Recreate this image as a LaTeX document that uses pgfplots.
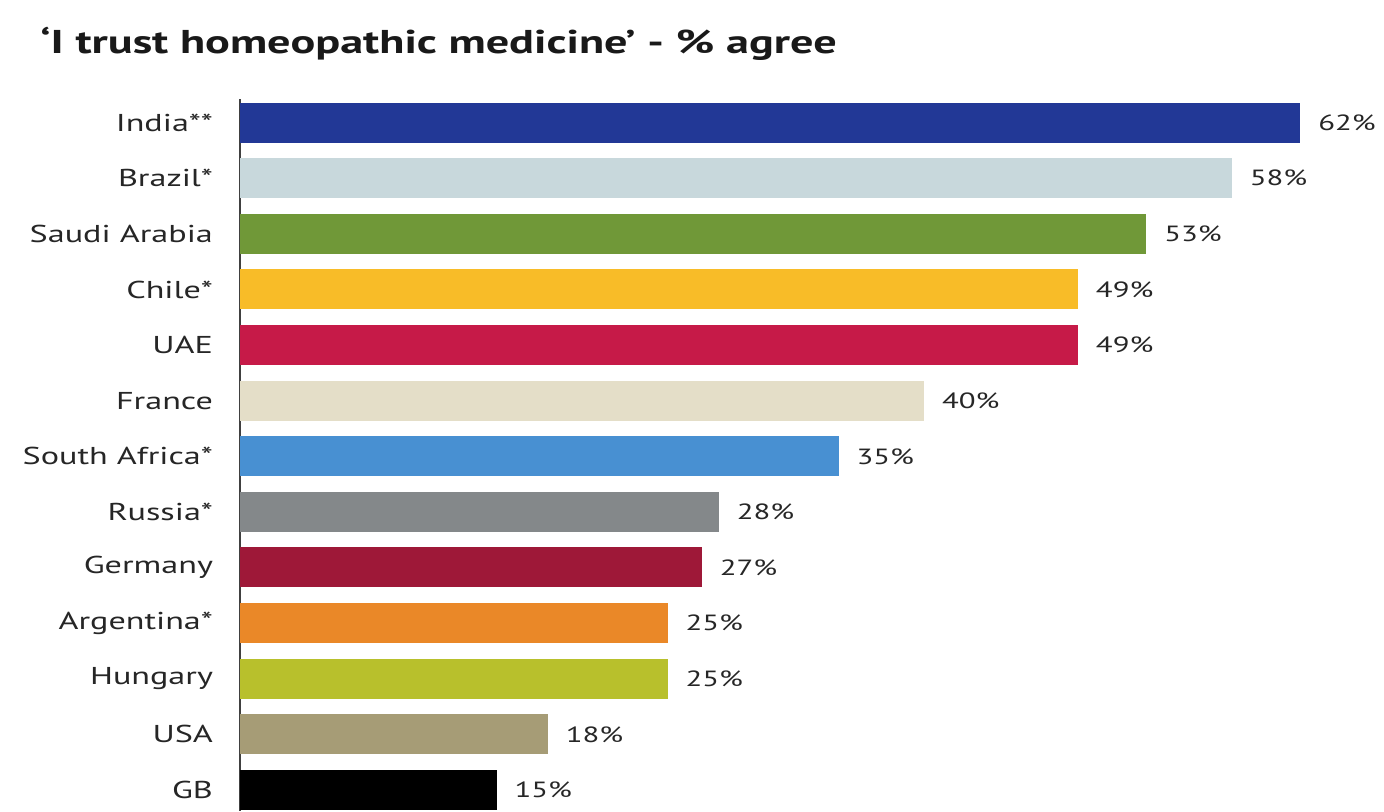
\documentclass[border=0pt]{standalone}
\usepackage{fontspec}
\setmainfont{PT Sans}[FakeStretch=1.4]
\usepackage{pgfplots}
\pgfplotsset{compat=1.18}

\definecolor{cIndia}{RGB}{34,56,150}
\definecolor{cBrazil}{RGB}{200,216,220}
\definecolor{cSaudi}{RGB}{112,152,56}
\definecolor{cChile}{RGB}{248,188,40}
\definecolor{cUAE}{RGB}{198,26,72}
\definecolor{cFrance}{RGB}{228,222,200}
\definecolor{cSAfrica}{RGB}{72,144,210}
\definecolor{cRussia}{RGB}{132,136,138}
\definecolor{cGermany}{RGB}{158,24,56}
\definecolor{cArgentina}{RGB}{234,136,40}
\definecolor{cHungary}{RGB}{184,192,44}
\definecolor{cUSA}{RGB}{166,156,118}
\definecolor{cGB}{RGB}{0,0,0}

\begin{document}
\begin{tikzpicture}
\begin{axis}[
    at={(0pt,0pt)}, anchor=south west,
    x=8.55pt, y=27.8pt,
    xbar, bar width=20pt, bar shift=0pt,
    xmin=0, xmax=62,
    ymin=-0.42, ymax=12.38,
    y dir=reverse,
    axis y line=left, axis x line=none,
    y axis line style={-, draw=black!75, line width=0.8pt},
    ytick={0,...,12},
    yticklabels={India**,Brazil*,Saudi Arabia,Chile*,UAE,France,South Africa*,Russia*,Germany,Argentina*,Hungary,USA,GB},
    major tick length=0pt,
    yticklabel style={font=\fontsize{12.2}{14}\selectfont, text=black!85, xshift=-10pt},
    /pgf/number format/assume math mode=true,
    nodes near coords={\pgfmathprintnumber{\pgfplotspointmeta}\%},
    point meta=x,
    nodes near coords style={font=\fontsize{11}{13}\selectfont, text=black!85, anchor=west, xshift=5.5pt},
    clip=false,
]
\addplot[draw=none, fill=cIndia] coordinates {(62,0)};
\addplot[draw=none, fill=cBrazil] coordinates {(58,1)};
\addplot[draw=none, fill=cSaudi] coordinates {(53,2)};
\addplot[draw=none, fill=cChile] coordinates {(49,3)};
\addplot[draw=none, fill=cUAE] coordinates {(49,4)};
\addplot[draw=none, fill=cFrance] coordinates {(40,5)};
\addplot[draw=none, fill=cSAfrica] coordinates {(35,6)};
\addplot[draw=none, fill=cRussia] coordinates {(28,7)};
\addplot[draw=none, fill=cGermany] coordinates {(27,8)};
\addplot[draw=none, fill=cArgentina] coordinates {(25,9)};
\addplot[draw=none, fill=cHungary] coordinates {(25,10)};
\addplot[draw=none, fill=cUSA] coordinates {(18,11)};
\addplot[draw=none, fill=cGB] coordinates {(15,12)};
\end{axis}
\node[anchor=base west, inner sep=0pt, font=\bfseries\fontsize{16.5}{19}\selectfont, text=black!90] at (-100pt,379pt) {‘I trust homeopathic medicine’ - \% agree};
\pgfresetboundingbox
\path[use as bounding box] (-120pt,0pt) rectangle (572pt,405.5pt);
\end{tikzpicture}
\end{document}
